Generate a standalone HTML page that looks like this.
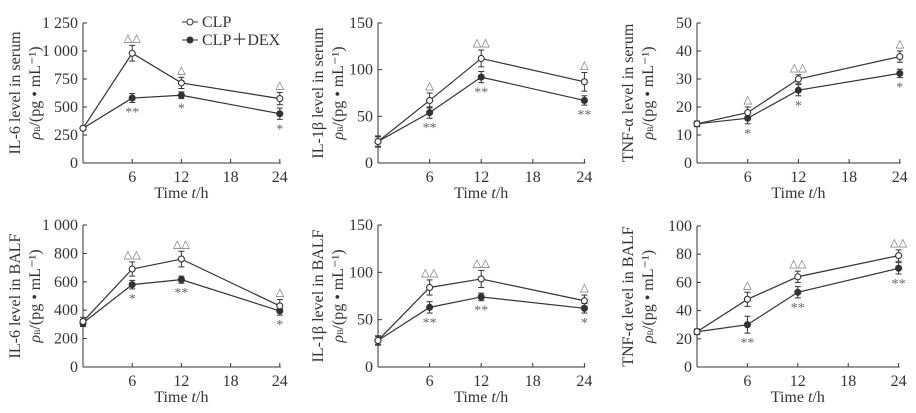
<!DOCTYPE html>
<html><head><meta charset="utf-8"><style>
body{margin:0;background:#fff;}
svg{display:block;font-family:"Liberation Serif",serif;}
</style></head><body>
<svg id="c" width="916" height="413" viewBox="0 0 916 413"></svg>
<script>
const hours=[0,6,12,24];
const xTicks=[6,12,18,24];
const clpTop1=[310,980,715,575], dexTop1=[310,580,605,440];
const clpTop2=[23,67,112,87], dexTop2=[23,54,92,67];
const clpTop3=[14,18,30,38], dexTop3=[14,16,26,32];
const clpBot1=[320,690,760,430], dexBot1=[310,580,615,395];
const clpBot2=[28,84,93,70], dexBot2=[28,63,74,62];
const clpBot3=[25,48,64,79], dexBot3=[25,30,53,70];
const errClp=[[0,70,50,55],[6,8,9,10],[1,2,1.5,2],[30,50,55,45],[5,8,9,6],[2,5,4,4]];
const errDex=[[0,40,30,50],[5,6,6,5],[1,2,2,1.5],[25,30,25,30],[4,6,4,5],[2,6,4,4]];
const yTicksList=[["0","250","500","750","1 000","1 250"],["0","50","100","150"],["0","10","20","30","40","50"],["0","200","400","600","800","1 000"],["0","50","100","150"],["0","20","40","60","80","100"]];
const yMaxList=[1250,150,50,1000,150,100];
const titles=[["IL-6 level in serum","(pg • mL⁻¹)"],["IL-1β level in serum","(pg • mL⁻¹)"],["TNF-α level in serum","(pg • mL⁻¹)"],["IL-6 level in BALF","(pg • mL⁻¹)"],["IL-1β level in BALF","(pg • mL⁻¹)"],["TNF-α level in BALF","(pg • mL⁻¹)"]];
const sigClp=[["","△△","△","△"],["","△","△△","△"],["","△","△△","△"],["","△△","△△","△"],["","△△","△△","△"],["","△","△△","△△"]];
const sigDex=[["","**","*","*"],["","**","**","**"],["","*","*","*"],["","*","**","*"],["","**","**","*"],["","**","**","**"]];
const clpAll=[clpTop1,clpTop2,clpTop3,clpBot1,clpBot2,clpBot3];
const dexAll=[dexTop1,dexTop2,dexTop3,dexBot1,dexBot2,dexBot3];
const geo=[{x0:83,sx:8.2,y0:163,y1:23,tx:20},{x0:378,sx:8.6,y0:163,y1:23,tx:323},{x0:697,sx:8.45,y0:163,y1:23,tx:633},
{x0:83,sx:8.2,y0:367,y1:225,tx:20},{x0:378,sx:8.6,y0:367,y1:225,tx:323},{x0:697,sx:8.4,y0:367,y1:226,tx:633}];
const svg=document.getElementById('c');
const NS='http://www.w3.org/2000/svg';
function mk(t,a,p){const e=document.createElementNS(NS,t);for(const k in a)e.setAttribute(k,a[k]);(p||svg).appendChild(e);return e;}
geo.forEach((g,i)=>{
 const grp=mk('g',{});
 
 
 const X=h=>g.x0+h*g.sx, Y=v=>g.y0-(v/yMaxList[i])*(g.y0-g.y1);
 mk('line',{x1:g.x0,y1:g.y0,x2:X(24)+1,y2:g.y0,stroke:'#333','stroke-width':1},grp);
 mk('line',{x1:g.x0,y1:g.y0,x2:g.x0,y2:g.y1,stroke:'#333','stroke-width':1},grp);
 xTicks.forEach(t=>{mk('line',{x1:X(t),y1:g.y0,x2:X(t),y2:g.y0-4,stroke:'#333'},grp);
  const tx=mk('text',{x:X(t),y:g.y0+19,'text-anchor':'middle','font-size':16,fill:'#333'},grp);tx.textContent=t;});
 const n=yTicksList[i].length;
 yTicksList[i].forEach((l,k)=>{const y=g.y0-k*(g.y0-g.y1)/(n-1);
  mk('line',{x1:g.x0,y1:y,x2:g.x0+4,y2:y,stroke:'#333'},grp);
  const tx=mk('text',{x:g.x0-5,y:y+5,'text-anchor':'end','font-size':16,fill:'#333'},grp);tx.textContent=l;});
 const xl=mk('text',{x:X(12),y:g.y0+35,'text-anchor':'middle','font-size':16,fill:'#333'},grp);
 xl.innerHTML='Time <tspan font-style="italic">t</tspan>/h';
 
 const cy=(g.y0+g.y1)/2;
 const t1=mk('text',{x:0,y:0,'text-anchor':'middle','font-size':16,fill:'#333',transform:`translate(${g.tx},${cy}) rotate(-90)`},grp);t1.textContent=titles[i][0];
 
 const t2=mk('text',{x:0,y:0,'text-anchor':'middle','font-size':16,fill:'#333',transform:`translate(${g.tx+20},${cy}) rotate(-90)`},grp);
 t2.innerHTML='<tspan font-style="italic">ρ</tspan><tspan font-size="8">B</tspan>/'+titles[i][1];
 [[dexAll[i],errDex[i],'#333',sigDex[i],1],[clpAll[i],errClp[i],'#fff',sigClp[i],-1]].forEach(([vals,er,fill,sig,dir],s)=>{
  const pts=hours.map((h,k)=>X(h)+','+Y(vals[k])).join(' ');
  const pl=mk('polyline',{points:pts,fill:'none',stroke:'#333','stroke-width':1.2},grp);
  
  hours.forEach((h,k)=>{const x=X(h),y=Y(vals[k]),e=er[k]*(g.y0-g.y1)/yMaxList[i];
   if(e>0){mk('line',{x1:x,y1:y-e,x2:x,y2:y+e,stroke:'#333'},grp);
    mk('line',{x1:x-3,y1:y-e,x2:x+3,y2:y-e,stroke:'#333'},grp);mk('line',{x1:x-3,y1:y+e,x2:x+3,y2:y+e,stroke:'#333'},grp);}
   const c=mk('circle',{cx:x,cy:y,r:3,fill:fill,stroke:'#333','stroke-width':1.1},grp);
   
   if(sig[k]){const st=mk('text',{x:x,y:dir>0?y+e+14:y-e-4,'text-anchor':'middle','font-size':dir>0?14:11,fill:'#666'},grp);st.textContent=sig[k];}
  });
 });
});
const lg=mk('g',{});

mk('line',{x1:182,y1:22,x2:198,y2:22,stroke:'#333'},lg);mk('circle',{cx:190,cy:22,r:3,fill:'#fff',stroke:'#333'},lg);
let lt=mk('text',{x:202,y:27,'font-size':16,fill:'#333'},lg);lt.textContent='CLP';
mk('line',{x1:182,y1:40,x2:198,y2:40,stroke:'#333'},lg);mk('circle',{cx:190,cy:40,r:3,fill:'#333',stroke:'#333'},lg);
lt=mk('text',{x:202,y:45,'font-size':16,fill:'#333'},lg);lt.textContent='CLP＋DEX';
</script>
</body></html>
